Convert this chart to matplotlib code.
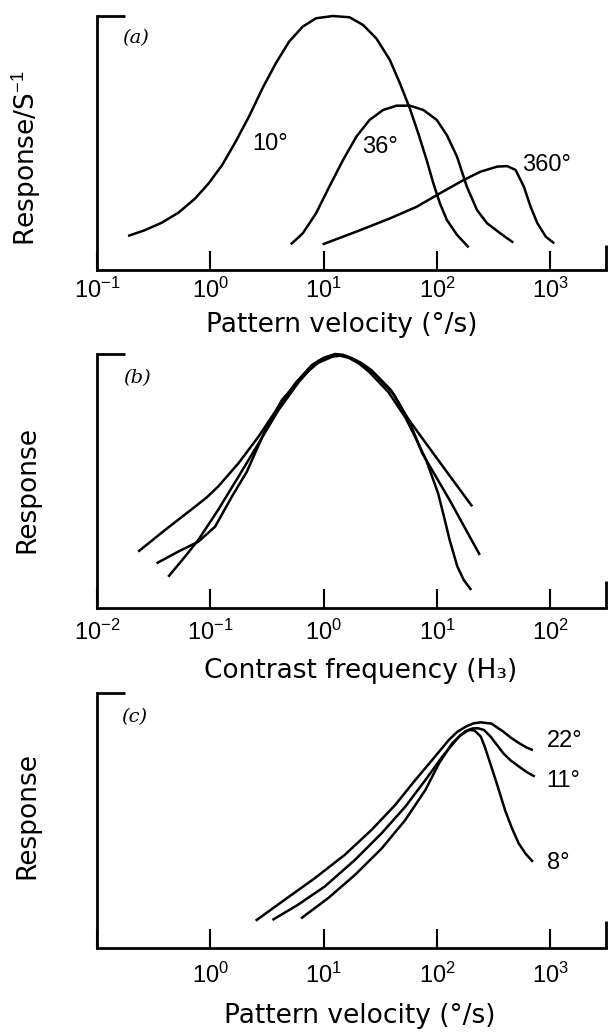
import matplotlib
matplotlib.use("Agg")
import matplotlib.pyplot as plt
from matplotlib import font_manager
from matplotlib.ticker import FixedLocator, FixedFormatter, NullLocator

# ---------------- data ----------------
# Panel (a): response vs pattern velocity (deg/s) for three pattern periods
vel_10 = [0.188, 0.265, 0.372, 0.524, 0.736, 0.966, 1.27, 1.67, 2.19, 2.88, 3.78, 4.95,
          6.52, 8.55, 12.0, 16.9, 22.2, 29.1, 38.3, 47.0, 57.5, 68.2, 80.9, 92.7, 106,
          122, 150, 190]
resp_10 = [0.134, 0.157, 0.186, 0.226, 0.282, 0.341, 0.413, 0.505, 0.604, 0.715, 0.814,
           0.899, 0.958, 0.991, 1.0, 0.995, 0.965, 0.912, 0.827, 0.735, 0.636, 0.538,
           0.433, 0.341, 0.262, 0.197, 0.138, 0.089]
vel_36 = [5.13, 6.52, 8.55, 11.2, 14.8, 19.4, 25.4, 33.4, 43.9, 57.5, 75.7, 99.3, 122,
          150, 183, 225, 276, 362, 470]
resp_36 = [0.101, 0.144, 0.223, 0.328, 0.433, 0.525, 0.591, 0.63, 0.647, 0.647, 0.63,
           0.591, 0.531, 0.446, 0.328, 0.236, 0.184, 0.144, 0.108]
vel_360 = [9.79, 19.4, 38.3, 66.1, 106, 171, 241, 339, 415, 492, 583, 668, 767, 910, 1080]
resp_360 = [0.101, 0.151, 0.203, 0.249, 0.302, 0.354, 0.387, 0.407, 0.409, 0.394, 0.328,
            0.249, 0.184, 0.131, 0.105]
labels_a = ["10°", "36°", "360°"]

# Panel (b): response vs contrast frequency (Hz)
freq_b1 = [0.0231, 0.0398, 0.0733, 0.0927, 0.117, 0.177, 0.266, 0.400, 0.562, 0.787,
           1.00, 1.26, 1.48, 1.78, 2.14, 2.63, 3.92, 5.38, 11.0, 20.4]
resp_b1 = [0.222, 0.307, 0.399, 0.435, 0.478, 0.57, 0.675, 0.793, 0.885, 0.957, 0.985,
           1.0, 0.997, 0.983, 0.965, 0.937, 0.858, 0.753, 0.563, 0.40]
freq_b2 = [0.0335, 0.0521, 0.0783, 0.110, 0.155, 0.210, 0.305, 0.428, 0.631, 0.891,
           1.05, 1.32, 1.62, 2.00, 2.82, 4.17, 5.62, 7.40, 12.9, 23.8]
resp_b2 = [0.176, 0.222, 0.261, 0.32, 0.439, 0.537, 0.70, 0.819, 0.905, 0.972, 0.988,
           0.995, 0.99, 0.97, 0.92, 0.84, 0.74, 0.609, 0.425, 0.209]
freq_b3 = [0.0425, 0.0597, 0.0783, 0.117, 0.177, 0.266, 0.400, 0.603, 0.741, 0.891,
           1.20, 1.41, 1.66, 2.04, 2.51, 3.72, 5.25, 6.46, 8.00, 10.2, 11.5, 12.9, 15.1,
           17.2, 20.0]
resp_b3 = [0.123, 0.202, 0.268, 0.386, 0.517, 0.648, 0.78, 0.89, 0.935, 0.965, 0.99,
           0.993, 0.985, 0.963, 0.93, 0.85, 0.75, 0.67, 0.583, 0.452, 0.36, 0.268, 0.163,
           0.11, 0.071]

# Panel (c): response vs pattern velocity (deg/s) for three pattern periods
vel_22 = [2.51, 4.49, 8.30, 15.3, 26.4, 42.7, 64.3, 90.4, 127, 151, 179, 209, 243, 302,
          385, 447, 530, 617, 700]
resp_22 = [0.107, 0.188, 0.273, 0.365, 0.463, 0.561, 0.659, 0.737, 0.816, 0.848, 0.868,
           0.881, 0.885, 0.88, 0.848, 0.825, 0.803, 0.786, 0.776]
vel_11 = [3.53, 5.90, 10.2, 18.8, 32.4, 52.4, 78.9, 111, 156, 178, 205, 229, 259, 295,
          339, 385, 447, 530, 617, 728]
resp_11 = [0.11, 0.169, 0.241, 0.345, 0.45, 0.554, 0.659, 0.75, 0.829, 0.85, 0.861,
           0.862, 0.855, 0.83, 0.795, 0.763, 0.735, 0.711, 0.69, 0.672]
vel_8 = [6.31, 10.9, 18.8, 32.4, 52.4, 78.9, 104, 136, 162, 191, 214, 243, 263, 288, 339,
         398, 457, 525, 603, 700]
resp_8 = [0.116, 0.195, 0.286, 0.39, 0.502, 0.62, 0.724, 0.803, 0.835, 0.855, 0.853,
          0.829, 0.79, 0.737, 0.64, 0.54, 0.47, 0.41, 0.37, 0.338]
labels_c = ["22°", "11°", "8°"]

ticks_a = [0.1, 1, 10, 100, 1000]
ticklabels_a = [r"$\mathrm{10^{-1}}$", r"$\mathrm{10^{0}}$", r"$\mathrm{10^{1}}$",
                r"$\mathrm{10^{2}}$", r"$\mathrm{10^{3}}$"]
ticks_b = [0.01, 0.1, 1, 10, 100]
ticklabels_b = [r"$\mathrm{10^{-2}}$", r"$\mathrm{10^{-1}}$", r"$\mathrm{10^{0}}$",
                r"$\mathrm{10^{1}}$", r"$\mathrm{10^{2}}$"]
ticks_c = [0.1, 1, 10, 100, 1000]
ticklabels_c = ["", r"$\mathrm{10^{0}}$", r"$\mathrm{10^{1}}$",
                r"$\mathrm{10^{2}}$", r"$\mathrm{10^{3}}$"]

# ---------------- fonts ----------------
names = {f.name for f in font_manager.fontManager.ttflist}
narrow = "Liberation Sans Narrow" if "Liberation Sans Narrow" in names else "Liberation Sans"
plt.rcParams["font.family"] = ["DejaVu Sans"]
plt.rcParams["mathtext.fontset"] = "custom"
plt.rcParams["mathtext.rm"] = narrow
plt.rcParams["mathtext.it"] = narrow + ":italic"
plt.rcParams["mathtext.bf"] = narrow + ":bold"
plt.rcParams["mathtext.sf"] = narrow

LW = 1.8
TICK_FS = 17
LAB_FS = 19

fig = plt.figure(figsize=(6.08, 10.33), dpi=100)
L, W = 97 / 608, 509 / 608
ax_a = fig.add_axes([L, 1 - 270 / 1033, W, 254 / 1033])
ax_b = fig.add_axes([L, 1 - 608 / 1033, W, 254 / 1033])
ax_c = fig.add_axes([L, 1 - 948 / 1033, W, 255 / 1033])


def style(ax, ticks, ticklabels, pad, right_len):
    ax.set_xscale("log")
    ax.set_ylim(0, 1)
    for s in ("top", "right"):
        ax.spines[s].set_visible(False)
    for s in ("left", "bottom"):
        ax.spines[s].set_linewidth(2.0)
    ax.xaxis.set_major_locator(FixedLocator(ticks))
    ax.xaxis.set_major_formatter(FixedFormatter(ticklabels))
    ax.xaxis.set_minor_locator(NullLocator())
    ax.yaxis.set_major_locator(NullLocator())
    ax.yaxis.set_minor_locator(NullLocator())
    ax.tick_params(axis="x", direction="in", length=13.5, width=1.5, pad=pad,
                   labelsize=TICK_FS)
    # short stub at the top of the y axis and the end mark on the x axis
    ax.plot([0, 0.055], [1, 1], transform=ax.transAxes, color="black", lw=2.0,
            clip_on=False, solid_capstyle="butt")
    ax.plot([1, 1], [0, right_len], transform=ax.transAxes, color="black", lw=2.0,
            clip_on=False, solid_capstyle="butt")


def curve(ax, x, y):
    ax.plot(x, y, color="black", lw=LW, clip_on=False, solid_capstyle="butt",
            solid_joinstyle="round")


# ---- panel (a)
style(ax_a, ticks_a, ticklabels_a, 5.5, 0.1)
ax_a.set_xlim(0.1, 10 ** 3.49)
for v, r in ((vel_10, resp_10), (vel_36, resp_36), (vel_360, resp_360)):
    curve(ax_a, v, r)
for txt, x, y in zip(labels_a, [2.35, 22.0, 560], [0.496, 0.484, 0.413]):
    ax_a.text(x, y, txt, fontsize=TICK_FS, family=narrow, ha="left", va="center")
ax_a.set_xlabel("Pattern velocity (°/s)", fontsize=LAB_FS)
ax_a.xaxis.set_label_coords(0.481, -0.2165)
ax_a.xaxis.label.set_va("center")
ax_a.set_ylabel("Response/S$^{-1}$", fontsize=LAB_FS)
ax_a.yaxis.set_label_coords(-0.1375, 0.441)
ax_a.yaxis.label.set_va("center")
ax_a.text(0.075, 0.913, "(a)", transform=ax_a.transAxes, fontsize=14,
          family="DejaVu Serif", style="italic", ha="center", va="center")

# ---- panel (b)
style(ax_b, ticks_b, ticklabels_b, 8.5, 0.105)
ax_b.set_xlim(0.01, 10 ** 2.49)
for f, r in ((freq_b1, resp_b1), (freq_b2, resp_b2), (freq_b3, resp_b3)):
    curve(ax_b, f, r)
ax_b.set_xlabel("Contrast frequency (H₃)", fontsize=LAB_FS)
ax_b.xaxis.set_label_coords(0.517, -0.248)
ax_b.xaxis.label.set_va("center")
ax_b.set_ylabel("Response", fontsize=LAB_FS)
ax_b.yaxis.set_label_coords(-0.1375, 0.465)
ax_b.yaxis.label.set_va("center")
ax_b.text(0.078, 0.906, "(b)", transform=ax_b.transAxes, fontsize=14,
          family="DejaVu Serif", style="italic", ha="center", va="center")

# ---- panel (c)
style(ax_c, ticks_c, ticklabels_c, 10.5, 0.105)
ax_c.set_xlim(0.1, 10 ** 3.49)
for v, r in ((vel_22, resp_22), (vel_11, resp_11), (vel_8, resp_8)):
    curve(ax_c, v, r)
for txt, y in zip(labels_c, [0.81, 0.655, 0.333]):
    ax_c.text(925, y, txt, fontsize=TICK_FS, family=narrow, ha="left", va="center")
ax_c.set_xlabel("Pattern velocity (°/s)", fontsize=LAB_FS)
ax_c.xaxis.set_label_coords(0.517, -0.267)
ax_c.xaxis.label.set_va("center")
ax_c.set_ylabel("Response", fontsize=LAB_FS)
ax_c.yaxis.set_label_coords(-0.1375, 0.52)
ax_c.yaxis.label.set_va("center")
ax_c.text(0.073, 0.906, "(c)", transform=ax_c.transAxes, fontsize=14,
          family="DejaVu Serif", style="italic", ha="center", va="center")

fig.savefig("out.png", dpi=100)
